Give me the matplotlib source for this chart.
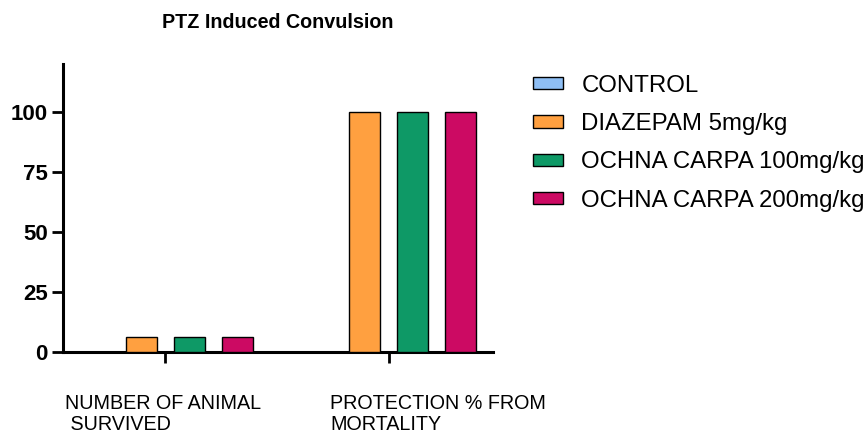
import numpy as np
import matplotlib.pyplot as plt
import matplotlib.transforms as mtransforms

plt.rcParams["font.family"] = ["Liberation Sans", "DejaVu Sans"]

categories = ["NUMBER OF ANIMAL\n SURVIVED", "PROTECTION % FROM\nMORTALITY"]
series_names = ["CONTROL", "DIAZEPAM 5mg/kg", "OCHNA CARPA 100mg/kg", "OCHNA CARPA 200mg/kg"]
control = [0, 0]
diazepam = [6, 100]
ochna_100 = [6, 100]
ochna_200 = [6, 100]

COLORS = ["#8fbff5", "#ffa040", "#0e9966", "#cc0a63"]

fig = plt.figure(figsize=(8.67, 4.32), dpi=100)
ax = fig.add_axes([0.0727, 0.186, 0.4959, 0.666])

x = np.arange(len(categories))
pitch = 0.2146
width = 0.1386
for i, (name, vals) in enumerate(zip(series_names, [control, diazepam, ochna_100, ochna_200])):
    ax.bar(x + (i - 1.5) * pitch, vals, width=width, color=COLORS[i],
           edgecolor="black", linewidth=1.0, label=name, zorder=3)

ax.set_xlim(-0.456, 1.466)
ax.set_ylim(0, 120)
ax.set_yticks([0, 25, 50, 75, 100])
ax.set_xticks(x)
ax.set_xticklabels([])

for s in ["top", "right"]:
    ax.spines[s].set_visible(False)
for s in ["left", "bottom"]:
    ax.spines[s].set_linewidth(2.2)
ax.tick_params(axis="both", width=2.0, length=8, labelsize=16, pad=3)
for lbl in ax.get_yticklabels():
    lbl.set_fontweight("bold")

# category labels, left aligned under each group like the original
trans = mtransforms.blended_transform_factory(ax.transData, ax.transAxes)
label_offsets = [-0.447, -0.262]
for xi, off, cat in zip(x, label_offsets, categories):
    ax.text(xi + off, -0.147, cat, transform=trans, ha="left", va="top",
            fontsize=14.2, linespacing=1.12)

fig.text(0.32, 0.947, "PTZ Induced Convulsion", ha="center", va="center",
         fontsize=14.2, fontweight="bold")

leg = ax.legend(loc="upper left", bbox_to_anchor=(0.615, 0.827),
                bbox_transform=fig.transFigure, frameon=False, fontsize=17.3,
                handlelength=1.25, handleheight=0.42, handletextpad=0.75,
                labelspacing=0.68, borderaxespad=0, borderpad=0)

fig.savefig("out.png", dpi=100)
